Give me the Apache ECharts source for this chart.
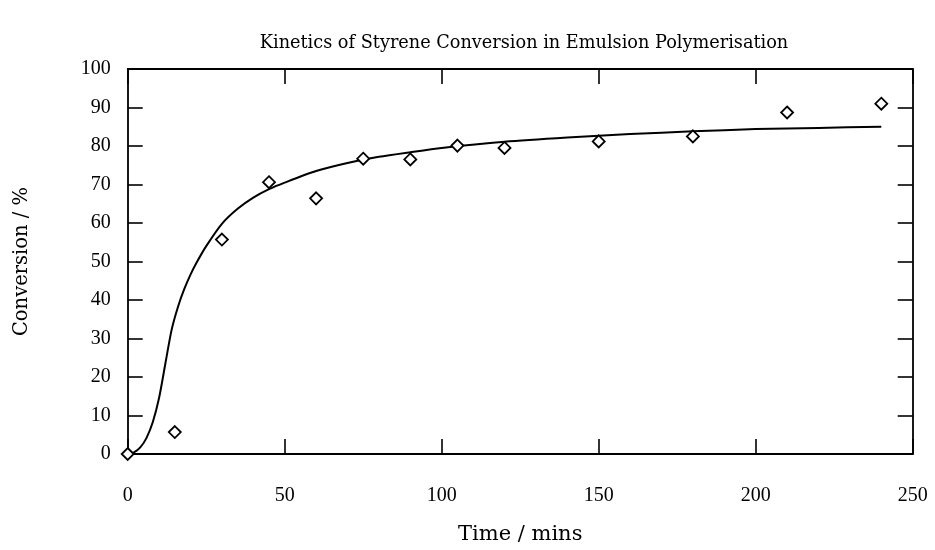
<!DOCTYPE html>
<html>
<head>
<meta charset="utf-8">
<script src="https://cdn.jsdelivr.net/npm/echarts@6/dist/echarts.min.js"></script>
<style>html,body{margin:0;padding:0;background:#fff;}#c{width:935px;height:550px;}</style>
</head>
<body>
<div id="c"></div>
<script>
// Measured data points (time in mins, conversion in %)
var pointTimes = [0, 15, 30, 45, 60, 75, 90, 105, 120, 150, 180, 210, 240];
var pointConv  = [0, 5.7, 55.7, 70.6, 66.4, 76.7, 76.5, 80.1, 79.5, 81.2, 82.5, 88.7, 91.0];

// Fitted curve
var curveTimes = [0, 2, 4, 6, 8, 10, 12, 14, 16, 18, 20, 22, 25, 30, 35, 40, 45, 50, 60, 70, 80, 90, 100, 120, 140, 160, 180, 200, 220, 240];
var curveConv  = [0, 0.4, 1.7, 4.2, 8.3, 14.6, 23.5, 32.3, 38.2, 42.8, 46.6, 49.8, 54.0, 59.8, 63.7, 66.6, 68.8, 70.5, 73.5, 75.6, 77.2, 78.4, 79.5, 81.1, 82.2, 83.1, 83.8, 84.4, 84.7, 85.0];

var xTicks = [0, 50, 100, 150, 200, 250];
var yTicks = [0, 10, 20, 30, 40, 50, 60, 70, 80, 90, 100];

var FONT_NUM = '"Liberation Serif", "DejaVu Serif", serif';
var FONT_TXT = '"DejaVu Serif", "Liberation Serif", serif';

function zip(a, b) { return a.map(function (v, i) { return [v, b[i]]; }); }

var chart = echarts.init(document.getElementById('c'), null, {renderer: 'canvas'});
var axisLine = {show: true, onZero: false, lineStyle: {color: '#000', width: 1.8}};
var tick = {show: true, inside: true, length: 15, lineStyle: {color: '#000', width: 1.6}};
chart.setOption({
  backgroundColor: '#fff',
  animation: false,
  title: {
    text: 'Kinetics of Styrene Conversion in Emulsion Polymerisation',
    left: 519, top: 29, textAlign: 'center',
    textStyle: {fontFamily: FONT_TXT, fontWeight: 'normal', fontSize: 17.7, color: '#000'}
  },
  grid: {left: 127.7, right: 22.3, top: 69, bottom: 81.7},
  xAxis: [{
    type: 'value', min: xTicks[0], max: xTicks[xTicks.length - 1], interval: 50,
    position: 'bottom',
    name: 'Time / mins', nameLocation: 'middle', nameGap: 70,
    nameTextStyle: {fontFamily: FONT_TXT, fontSize: 21, color: '#000'},
    axisLine: axisLine, axisTick: tick, splitLine: {show: false},
    axisLabel: {fontFamily: FONT_NUM, fontSize: 20, color: '#000', margin: 32}
  }, {
    type: 'value', min: xTicks[0], max: xTicks[xTicks.length - 1], interval: 50,
    position: 'top',
    axisLine: axisLine, axisTick: tick, splitLine: {show: false},
    axisLabel: {show: false}
  }],
  yAxis: [{
    type: 'value', min: yTicks[0], max: yTicks[yTicks.length - 1], interval: 10,
    position: 'left',
    name: 'Conversion / %', nameLocation: 'middle', nameGap: 96, nameRotate: 90,
    nameTextStyle: {fontFamily: FONT_TXT, fontSize: 19.5, color: '#000'},
    axisLine: axisLine, axisTick: tick, splitLine: {show: false},
    axisLabel: {fontFamily: FONT_NUM, fontSize: 20, color: '#000', margin: 17}
  }, {
    type: 'value', min: yTicks[0], max: yTicks[yTicks.length - 1], interval: 10,
    position: 'right',
    axisLine: axisLine, axisTick: tick, splitLine: {show: false},
    axisLabel: {show: false}
  }],
  series: [{
    type: 'line',
    data: zip(curveTimes, curveConv),
    smooth: 0.25,
    showSymbol: false,
    lineStyle: {color: '#000', width: 2},
    z: 2
  }, {
    type: 'scatter',
    data: zip(pointTimes, pointConv),
    symbol: 'diamond',
    symbolSize: [12, 12],
    clip: false,
    itemStyle: {color: '#fff', borderColor: '#000', borderWidth: 1.8, opacity: 1},
    z: 3
  }]
});
</script>
</body>
</html>
